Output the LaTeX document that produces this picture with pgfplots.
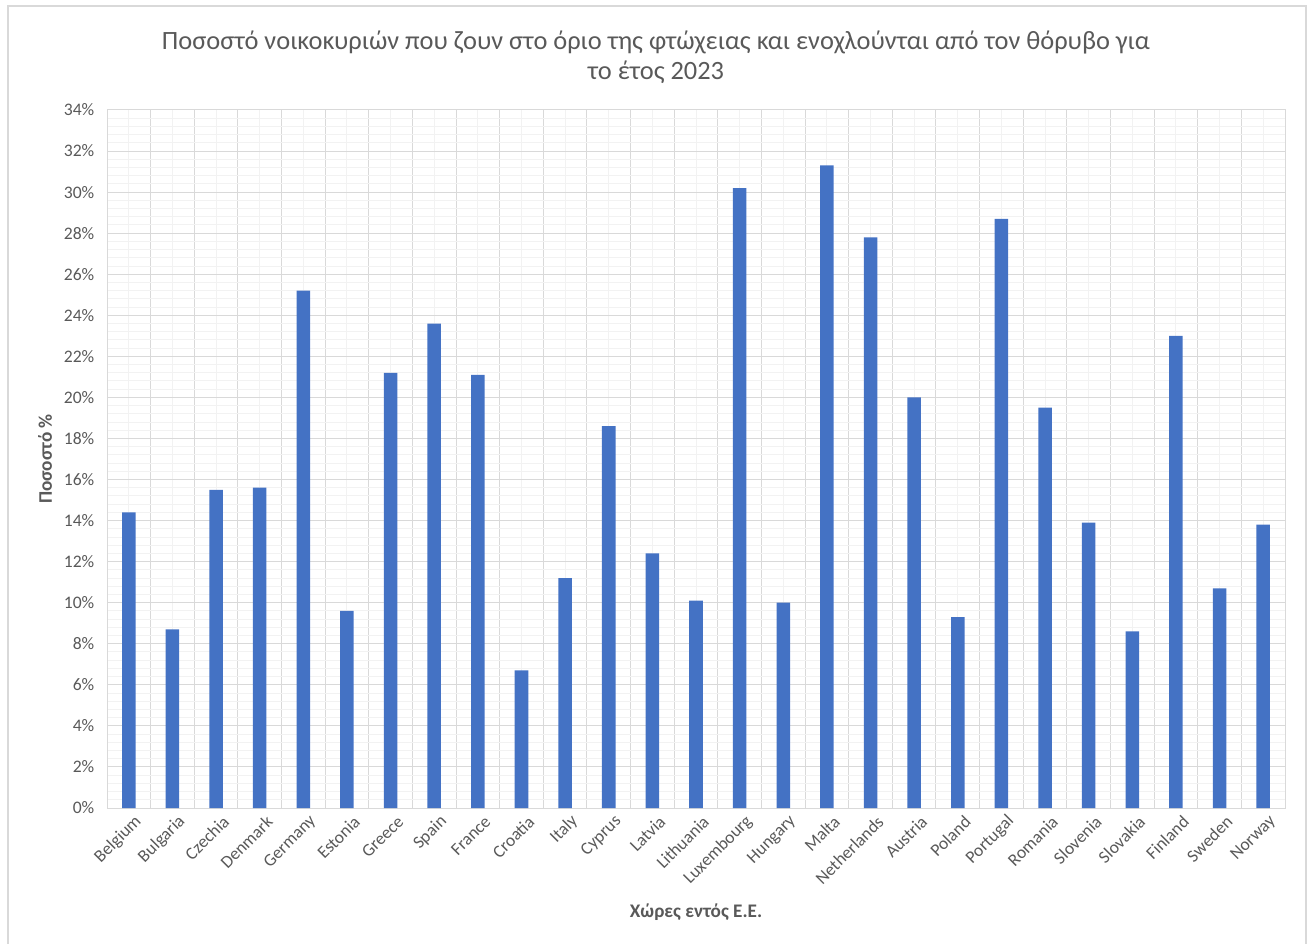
\documentclass[border=0pt]{standalone}
\usepackage{fontspec}
\setmainfont{Carlito}
\usepackage{pgfplots}
\usepackage{pgfplotstable}
\pgfplotsset{compat=1.18}
\definecolor{barblue}{HTML}{4472C4}
\definecolor{txtgrey}{HTML}{595959}
\definecolor{gridmaj}{HTML}{D9D9D9}
\definecolor{gridmin}{HTML}{F2F2F2}

% Share of households at risk of poverty that are bothered by noise, 2023 (%)
\pgfplotstableread{
idx country value
0 Belgium 14.4
1 Bulgaria 8.7
2 Czechia 15.5
3 Denmark 15.6
4 Germany 25.2
5 Estonia 9.6
6 Greece 21.2
7 Spain 23.6
8 France 21.1
9 Croatia 6.7
10 Italy 11.2
11 Cyprus 18.6
12 Latvia 12.4
13 Lithuania 10.1
14 Luxembourg 30.2
15 Hungary 10.0
16 Malta 31.3
17 Netherlands 27.8
18 Austria 20.0
19 Poland 9.3
20 Portugal 28.7
21 Romania 19.5
22 Slovenia 13.9
23 Slovakia 8.6
24 Finland 23.0
25 Sweden 10.7
26 Norway 13.8
}\noisedata

\begin{document}
\begin{tikzpicture}
\useasboundingbox (-80.25pt,-101.25pt) rectangle (903.75pt,606pt);
% chart frame
\draw[gridmaj, line width=1.2pt] (-74.25pt,-110pt) -- (-74.25pt,601.5pt) -- (899.25pt,601.5pt) -- (899.25pt,-110pt);
\begin{axis}[
  scale only axis,
  width=883.5pt, height=523.5pt,
  xmin=-0.5, xmax=26.5, ymin=0, ymax=34,
  ybar, bar width=0.31,
  xtick={0,...,26},
  xticklabels from table={\noisedata}{country},
  minor xtick={-0.5,0.5,...,26.5},
  ytick={0,2,...,34},
  minor y tick num=4,
  yticklabel={\pgfmathprintnumber{\tick}\%},
  /pgf/number format/assume math mode=true,
  grid=both,
  major x grid style={gridmin, line width=0.75pt},
  minor x grid style={gridmaj, line width=0.75pt},
  major y grid style={gridmaj, line width=0.75pt},
  minor y grid style={gridmin, line width=0.75pt},
  axis line style={gridmaj, line width=0.75pt},
  major tick length=0pt, minor tick length=0pt,
  tick label style={font=\fontsize{13.2}{16}\selectfont, color=txtgrey},
  xticklabel style={rotate=45, anchor=east, yshift=-11pt, xshift=3pt},
  yticklabel style={xshift=-6pt},
  xlabel={Χώρες εντός Ε.Ε.},
  ylabel={Ποσοστό \%},
  label style={font=\fontsize{14.4}{17}\selectfont\bfseries, color=txtgrey},
  xlabel style={at={(axis description cs:0.5,-0.149)}, anchor=center},
  ylabel style={at={(axis description cs:-0.0526,0.5)}, anchor=center},
]
\addplot[fill=barblue, draw=none] table[x=idx, y=value]{\noisedata};
\end{axis}
\node[font=\fontsize{19.8}{22.5}\selectfont, color=txtgrey, align=center]
  at (411.75pt,563.25pt)
  {Ποσοστό νοικοκυριών που ζουν στο όριο της φτώχειας και ενοχλούνται από τον θόρυβο για\\το έτος 2023};
\end{tikzpicture}
\end{document}
